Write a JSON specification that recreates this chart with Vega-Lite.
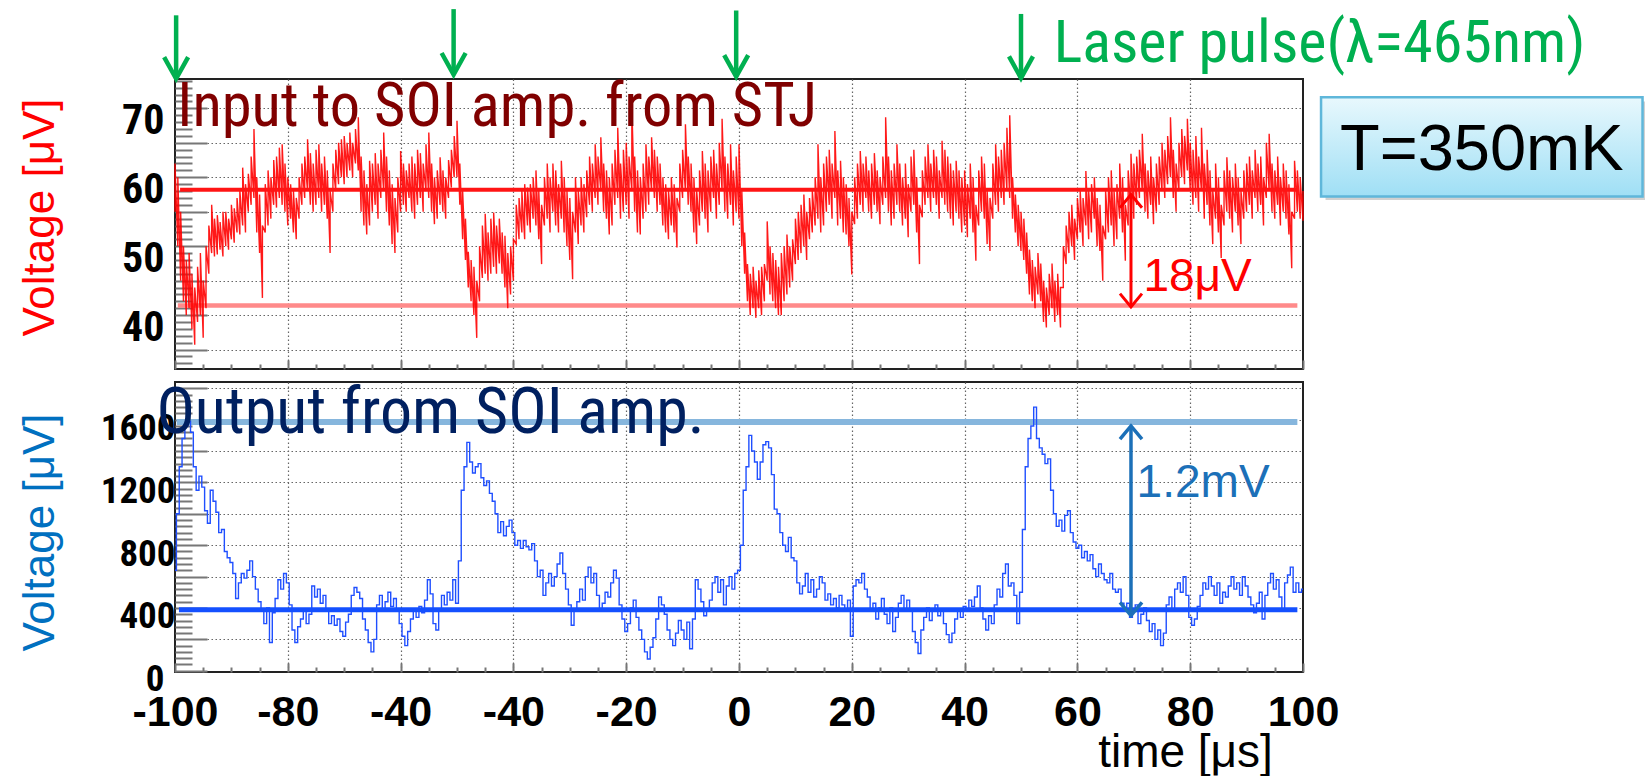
{
 "$schema": "https://vega.github.io/schema/vega-lite/v6.json",
 "background": "white",
 "padding": {"left": 17, "top": 5, "right": 0, "bottom": 0},
 "spacing": 13,
 "bounds": "flush",
 "config": {
  "view": {"stroke": "#222", "strokeWidth": 2},
  "axis": {"labelFont": "Liberation Sans", "titleFont": "Liberation Sans", "domain": false, "tickColor": "#777", "tickWidth": 2, "gridColor": "#666", "gridDash": [1.5, 2.5], "gridWidth": 1.2, "labelOverlap": false, "labelFlush": false, "labelBound": false}
 },
 "vconcat": [
  {
   "width": 1128, "height": 290,
   "encoding": {
    "x": {"field": "t", "type": "quantitative", "scale": {"domain": [-100, 100], "nice": false, "zero": false},
     "axis": {"title": null, "values": [-100,-95,-90,-85,-80,-75,-70,-65,-60,-55,-50,-45,-40,-35,-30,-25,-20,-15,-10,-5,0,5,10,15,20,25,30,35,40,45,50,55,60,65,70,75,80,85,90,95,100],
      "labels": false,
      "tickSize": {"condition": {"test": "datum.value % 20 === 0", "value": -9}, "value": -5},
      "grid": true,
      "gridOpacity": {"condition": {"test": "datum.value % 20 === 0 && abs(datum.value) < 100", "value": 1}, "value": 0}}},
    "y": {"field": "v", "type": "quantitative", "scale": {"domain": [32.18, 74.26], "nice": false, "zero": false},
     "axis": {"title": "Voltage [μV]", "titleColor": "#ff0000", "titleFontSize": 44, "titleFontWeight": "normal", "titleX": -135, "titleY": 138, "titleAngle": -90, "titleAlign": "center", "titleBaseline": "middle",
      "values": [33,34,35,36,37,38,39,40,41,42,43,44,45,46,47,48,49,50,51,52,53,54,55,56,57,58,59,60,61,62,63,64,65,66,67,68,69,70,71,72,73,74],
      "tickSize": {"condition": {"test": "datum.value % 5 === 0", "value": -32}, "value": -17},
      "grid": true,
      "gridOpacity": {"condition": {"test": "datum.value % 5 === 0", "value": 1}, "value": 0},
      "labelExpr": "indexof([40,50,60,70], datum.value) >= 0 ? '' + datum.value : ''",
      "labelFont": "Roboto Condensed, Liberation Sans", "labelFontWeight": "bold", "labelFontSize": 42, "labelColor": "#000",
      "labelPadding": 43,
      "labelOffset": 12}}
   },
   "layer": [
    {"data": {"values": [{"t": -99.5, "t2": 99, "v": 41.4}]}, "mark": {"type": "rule", "color": "#ff8a8a", "strokeWidth": 4.5}, "encoding": {"x2": {"field": "t2"}}},
    {"data": {"values": [
{"t":-100,"v":55,"v2":62},{"t":-99.5,"v":50,"v2":60},{"t":-99,"v":45,"v2":55},{"t":-98.5,"v":42,"v2":50},{"t":-98,"v":40,"v2":48},{"t":-97.5,"v":41,"v2":49},{"t":-97,"v":38,"v2":46},{"t":-96.5,"v":35.7,"v2":44},{"t":-96,"v":39,"v2":47},{"t":-95.5,"v":40,"v2":49},{"t":-95,"v":36.7,"v2":45},{"t":-94.5,"v":41,"v2":50},{"t":-94,"v":46,"v2":53},{"t":-93.5,"v":49,"v2":56},{"t":-93,"v":48.5,"v2":54},{"t":-92.5,"v":48.8,"v2":54.5},{"t":-92,"v":49.5,"v2":53.5},{"t":-91.5,"v":48.5,"v2":55},{"t":-91,"v":50,"v2":55},{"t":-90.5,"v":49.5,"v2":54},{"t":-90,"v":51,"v2":56},{"t":-89.5,"v":50.5,"v2":55.5},{"t":-89,"v":52,"v2":57},{"t":-88.5,"v":51.7,"v2":58},{"t":-88,"v":53,"v2":61.4},{"t":-87.5,"v":52,"v2":59},{"t":-87,"v":55,"v2":60.5},{"t":-86.5,"v":56,"v2":63},{"t":-86,"v":57,"v2":67},{"t":-85.5,"v":52,"v2":60},{"t":-85,"v":49,"v2":57.5},{"t":-84.5,"v":42.5,"v2":53},{"t":-84,"v":52,"v2":59},{"t":-83.5,"v":53,"v2":61},{"t":-83,"v":54,"v2":60},{"t":-82.5,"v":56,"v2":62.5},{"t":-82,"v":55.6,"v2":63},{"t":-81.5,"v":57,"v2":64.3},{"t":-81,"v":56,"v2":64.8},{"t":-80.5,"v":55,"v2":62},{"t":-80,"v":53,"v2":60},{"t":-79.5,"v":54,"v2":59},{"t":-79,"v":52,"v2":58},{"t":-78.5,"v":51,"v2":57},{"t":-78,"v":54,"v2":60},{"t":-77.5,"v":56,"v2":62},{"t":-77,"v":57,"v2":63},{"t":-76.5,"v":58,"v2":65.5},{"t":-76,"v":56,"v2":63.5},{"t":-75.5,"v":55,"v2":62},{"t":-75,"v":56,"v2":64},{"t":-74.5,"v":57,"v2":64.8},{"t":-74,"v":55,"v2":62},{"t":-73.5,"v":56,"v2":63},{"t":-73,"v":54,"v2":61},{"t":-72.5,"v":49,"v2":58},{"t":-72,"v":55,"v2":62},{"t":-71.5,"v":58,"v2":64},{"t":-71,"v":59,"v2":65},{"t":-70.5,"v":60,"v2":65.5},{"t":-70,"v":59,"v2":66},{"t":-69.5,"v":60,"v2":65},{"t":-69,"v":61,"v2":66.5},{"t":-68.5,"v":60,"v2":65},{"t":-68,"v":62,"v2":67},{"t":-67.5,"v":61,"v2":68.7},{"t":-67,"v":55,"v2":63},{"t":-66.5,"v":53,"v2":61},{"t":-66,"v":51.7,"v2":59},{"t":-65.5,"v":53,"v2":62.4},{"t":-65,"v":55,"v2":62},{"t":-64.5,"v":56,"v2":63.5},{"t":-64,"v":54,"v2":62},{"t":-63.5,"v":57,"v2":64},{"t":-63,"v":58,"v2":66.5},{"t":-62.5,"v":55,"v2":63},{"t":-62,"v":53,"v2":61},{"t":-61.5,"v":50.3,"v2":59},{"t":-61,"v":49,"v2":57},{"t":-60.5,"v":52,"v2":60},{"t":-60,"v":55,"v2":63.8},{"t":-59.5,"v":56,"v2":62},{"t":-59,"v":55,"v2":61},{"t":-58.5,"v":57,"v2":62},{"t":-58,"v":55,"v2":63},{"t":-57.5,"v":54,"v2":62},{"t":-57,"v":56,"v2":64},{"t":-56.5,"v":57,"v2":63.5},{"t":-56,"v":55,"v2":62},{"t":-55.5,"v":58,"v2":64.8},{"t":-55,"v":57,"v2":66.5},{"t":-54.5,"v":55,"v2":62},{"t":-54,"v":53.2,"v2":60},{"t":-53.5,"v":54,"v2":61},{"t":-53,"v":56,"v2":62.9},{"t":-52.5,"v":55,"v2":61},{"t":-52,"v":54,"v2":60},{"t":-51.5,"v":57,"v2":62.5},{"t":-51,"v":58.5,"v2":64},{"t":-50.5,"v":60,"v2":66},{"t":-50,"v":60,"v2":68.2},{"t":-49.5,"v":56,"v2":62},{"t":-49,"v":51,"v2":58},{"t":-48.5,"v":48,"v2":54},{"t":-48,"v":44,"v2":49.2},{"t":-47.5,"v":42,"v2":48},{"t":-47,"v":40,"v2":47},{"t":-46.5,"v":36.7,"v2":45},{"t":-46,"v":42,"v2":50},{"t":-45.5,"v":45.4,"v2":53},{"t":-45,"v":46,"v2":54.7},{"t":-44.5,"v":45,"v2":52},{"t":-44,"v":46,"v2":54},{"t":-43.5,"v":47,"v2":54.9},{"t":-43,"v":46,"v2":53},{"t":-42.5,"v":47.5,"v2":54},{"t":-42,"v":46,"v2":52},{"t":-41.5,"v":44,"v2":51.5},{"t":-41,"v":41,"v2":49},{"t":-40.5,"v":43,"v2":50},{"t":-40,"v":45,"v2":51},{"t":-39.5,"v":50.3,"v2":56},{"t":-39,"v":51,"v2":57},{"t":-38.5,"v":52,"v2":58},{"t":-38,"v":51,"v2":59},{"t":-37.5,"v":53,"v2":58.5},{"t":-37,"v":52,"v2":59},{"t":-36.5,"v":54,"v2":60},{"t":-36,"v":53,"v2":61},{"t":-35.5,"v":51,"v2":58},{"t":-35,"v":47.4,"v2":56},{"t":-34.5,"v":53,"v2":60},{"t":-34,"v":54,"v2":62},{"t":-33.5,"v":52,"v2":60},{"t":-33,"v":55,"v2":62},{"t":-32.5,"v":53,"v2":61},{"t":-32,"v":52,"v2":59},{"t":-31.5,"v":54,"v2":62.4},{"t":-31,"v":52,"v2":60},{"t":-30.5,"v":50,"v2":58},{"t":-30,"v":48,"v2":57},{"t":-29.5,"v":45.2,"v2":55},{"t":-29,"v":52,"v2":60},{"t":-28.5,"v":50.3,"v2":58},{"t":-28,"v":53,"v2":60},{"t":-27.5,"v":52,"v2":59},{"t":-27,"v":54.2,"v2":61},{"t":-26.5,"v":56,"v2":63},{"t":-26,"v":55,"v2":62},{"t":-25.5,"v":57,"v2":64.8},{"t":-25,"v":56,"v2":63},{"t":-24.5,"v":58,"v2":65.8},{"t":-24,"v":55,"v2":62},{"t":-23.5,"v":54,"v2":61},{"t":-23,"v":51.7,"v2":60},{"t":-22.5,"v":53,"v2":62},{"t":-22,"v":56,"v2":64},{"t":-21.5,"v":57,"v2":67.2},{"t":-21,"v":54,"v2":62},{"t":-20.5,"v":55,"v2":64},{"t":-20,"v":56,"v2":65},{"t":-19.5,"v":54,"v2":63},{"t":-19,"v":58,"v2":70.4},{"t":-18.5,"v":55,"v2":63},{"t":-18,"v":52,"v2":61},{"t":-17.5,"v":51.7,"v2":60},{"t":-17,"v":54,"v2":62},{"t":-16.5,"v":55,"v2":64.8},{"t":-16,"v":56,"v2":63},{"t":-15.5,"v":58,"v2":65.8},{"t":-15,"v":57,"v2":64},{"t":-14.5,"v":55,"v2":63},{"t":-14,"v":56,"v2":62},{"t":-13.5,"v":53,"v2":60},{"t":-13,"v":52,"v2":59},{"t":-12.5,"v":51,"v2":58},{"t":-12,"v":53,"v2":60},{"t":-11.5,"v":52,"v2":59},{"t":-11,"v":49.8,"v2":57},{"t":-10.5,"v":55,"v2":62},{"t":-10,"v":57,"v2":64},{"t":-9.5,"v":58,"v2":67.7},{"t":-9,"v":56,"v2":63},{"t":-8.5,"v":55,"v2":62},{"t":-8,"v":52,"v2":60},{"t":-7.5,"v":50.3,"v2":58},{"t":-7,"v":53,"v2":61},{"t":-6.5,"v":55,"v2":63.8},{"t":-6,"v":54,"v2":62},{"t":-5.5,"v":52,"v2":61},{"t":-5,"v":55,"v2":63},{"t":-4.5,"v":57,"v2":64},{"t":-4,"v":54,"v2":62},{"t":-3.5,"v":56,"v2":65},{"t":-3,"v":58,"v2":68.5},{"t":-2.5,"v":55,"v2":63},{"t":-2,"v":54,"v2":62},{"t":-1.5,"v":56,"v2":64.8},{"t":-1,"v":53,"v2":61},{"t":-0.5,"v":55,"v2":63},{"t":0,"v":54,"v2":64.8},{"t":0.5,"v":50,"v2":58},{"t":1,"v":46,"v2":52},{"t":1.5,"v":42,"v2":47.4},{"t":2,"v":40,"v2":46},{"t":2.5,"v":41,"v2":47},{"t":3,"v":39.6,"v2":45},{"t":3.5,"v":41,"v2":46.5},{"t":4,"v":40,"v2":47},{"t":4.5,"v":42,"v2":47.4},{"t":5,"v":45,"v2":53.6},{"t":5.5,"v":43,"v2":50},{"t":6,"v":42,"v2":49},{"t":6.5,"v":41,"v2":48},{"t":7,"v":40,"v2":47},{"t":7.5,"v":40,"v2":49},{"t":8,"v":42,"v2":50},{"t":8.5,"v":43,"v2":51.7},{"t":9,"v":44,"v2":50},{"t":9.5,"v":45,"v2":51},{"t":10,"v":47.4,"v2":54},{"t":10.5,"v":48,"v2":55},{"t":11,"v":49,"v2":56},{"t":11.5,"v":50,"v2":57.5},{"t":12,"v":48,"v2":55},{"t":12.5,"v":51,"v2":57},{"t":13,"v":52,"v2":58},{"t":13.5,"v":53,"v2":60},{"t":14,"v":54,"v2":64.8},{"t":14.5,"v":52,"v2":60},{"t":15,"v":53,"v2":62},{"t":15.5,"v":55,"v2":63},{"t":16,"v":56,"v2":64},{"t":16.5,"v":54,"v2":62},{"t":17,"v":57,"v2":66.7},{"t":17.5,"v":53,"v2":61},{"t":18,"v":54,"v2":62.4},{"t":18.5,"v":52,"v2":60},{"t":19,"v":51.7,"v2":59},{"t":19.5,"v":50,"v2":57},{"t":20,"v":45.9,"v2":55},{"t":20.5,"v":53.2,"v2":60},{"t":21,"v":54,"v2":62},{"t":21.5,"v":56,"v2":63.8},{"t":22,"v":55,"v2":62},{"t":22.5,"v":57,"v2":63},{"t":23,"v":55,"v2":61},{"t":23.5,"v":54,"v2":62},{"t":24,"v":56,"v2":63.5},{"t":24.5,"v":55,"v2":61},{"t":25,"v":53.2,"v2":60},{"t":25.5,"v":56,"v2":63},{"t":26,"v":57,"v2":68.7},{"t":26.5,"v":55,"v2":63},{"t":27,"v":53,"v2":61},{"t":27.5,"v":54,"v2":62},{"t":28,"v":56,"v2":64.8},{"t":28.5,"v":55,"v2":62},{"t":29,"v":53,"v2":60},{"t":29.5,"v":54,"v2":62},{"t":30,"v":51.3,"v2":59},{"t":30.5,"v":55,"v2":63},{"t":31,"v":56,"v2":64},{"t":31.5,"v":52,"v2":60},{"t":32,"v":47.4,"v2":56},{"t":32.5,"v":54.2,"v2":61},{"t":33,"v":56,"v2":63},{"t":33.5,"v":57,"v2":64.8},{"t":34,"v":55,"v2":62},{"t":34.5,"v":57,"v2":64},{"t":35,"v":56,"v2":63},{"t":35.5,"v":54,"v2":61},{"t":36,"v":57,"v2":65.3},{"t":36.5,"v":56,"v2":64},{"t":37,"v":55,"v2":63},{"t":37.5,"v":54,"v2":62},{"t":38,"v":53,"v2":61},{"t":38.5,"v":55,"v2":62.4},{"t":39,"v":54,"v2":61},{"t":39.5,"v":52,"v2":60},{"t":40,"v":53,"v2":61},{"t":40.5,"v":51.3,"v2":59},{"t":41,"v":54,"v2":62},{"t":41.5,"v":52,"v2":60},{"t":42,"v":47.9,"v2":56},{"t":42.5,"v":53,"v2":61},{"t":43,"v":55,"v2":63},{"t":43.5,"v":54,"v2":62},{"t":44,"v":50.3,"v2":58},{"t":44.5,"v":49.3,"v2":57},{"t":45,"v":54,"v2":62},{"t":45.5,"v":56,"v2":64.8},{"t":46,"v":55,"v2":63},{"t":46.5,"v":57,"v2":64},{"t":47,"v":56,"v2":65},{"t":47.5,"v":58,"v2":67.2},{"t":48,"v":57,"v2":69},{"t":48.5,"v":54,"v2":60},{"t":49,"v":52,"v2":57.5},{"t":49.5,"v":50,"v2":56},{"t":50,"v":49.3,"v2":55},{"t":50.5,"v":48,"v2":54},{"t":51,"v":46,"v2":52},{"t":51.5,"v":43,"v2":49.5},{"t":52,"v":42,"v2":48},{"t":52.5,"v":41,"v2":47},{"t":53,"v":43,"v2":49},{"t":53.5,"v":42,"v2":47.5},{"t":54,"v":39,"v2":45},{"t":54.5,"v":38.2,"v2":44},{"t":55,"v":40,"v2":46},{"t":55.5,"v":41,"v2":47.5},{"t":56,"v":39,"v2":45},{"t":56.5,"v":40,"v2":46},{"t":57,"v":38.2,"v2":44},{"t":57.5,"v":44,"v2":50},{"t":58,"v":47.4,"v2":53},{"t":58.5,"v":49,"v2":55},{"t":59,"v":50,"v2":56},{"t":59.5,"v":48,"v2":54},{"t":60,"v":51,"v2":57},{"t":60.5,"v":52,"v2":58},{"t":61,"v":50,"v2":57},{"t":61.5,"v":53,"v2":60.9},{"t":62,"v":51,"v2":58},{"t":62.5,"v":52,"v2":59},{"t":63,"v":54,"v2":60},{"t":63.5,"v":50,"v2":57},{"t":64,"v":49.3,"v2":56},{"t":64.5,"v":45,"v2":53},{"t":65,"v":51,"v2":58},{"t":65.5,"v":52,"v2":60},{"t":66,"v":53,"v2":61},{"t":66.5,"v":50,"v2":58},{"t":67,"v":51,"v2":59},{"t":67.5,"v":54,"v2":62},{"t":68,"v":52,"v2":60},{"t":68.5,"v":47.9,"v2":56},{"t":69,"v":53,"v2":61},{"t":69.5,"v":55,"v2":63.4},{"t":70,"v":54,"v2":62},{"t":70.5,"v":56,"v2":63},{"t":71,"v":57,"v2":64},{"t":71.5,"v":58,"v2":66.3},{"t":72,"v":55,"v2":62},{"t":72.5,"v":54,"v2":61},{"t":73,"v":56,"v2":63},{"t":73.5,"v":53.2,"v2":60},{"t":74,"v":55,"v2":62},{"t":74.5,"v":56,"v2":63},{"t":75,"v":58,"v2":65},{"t":75.5,"v":57,"v2":64},{"t":76,"v":59,"v2":66},{"t":76.5,"v":60,"v2":68.7},{"t":77,"v":57,"v2":64},{"t":77.5,"v":55,"v2":62},{"t":78,"v":58,"v2":65},{"t":78.5,"v":60,"v2":67},{"t":79,"v":59,"v2":66},{"t":79.5,"v":61,"v2":68.5},{"t":80,"v":58,"v2":65},{"t":80.5,"v":56,"v2":64},{"t":81,"v":57,"v2":66},{"t":81.5,"v":55,"v2":63},{"t":82,"v":58,"v2":67.2},{"t":82.5,"v":54,"v2":62},{"t":83,"v":56,"v2":64},{"t":83.5,"v":53,"v2":61},{"t":84,"v":50.3,"v2":58},{"t":84.5,"v":54,"v2":62},{"t":85,"v":52,"v2":60},{"t":85.5,"v":48.3,"v2":56},{"t":86,"v":53,"v2":61},{"t":86.5,"v":55,"v2":62.9},{"t":87,"v":54,"v2":61},{"t":87.5,"v":52,"v2":60},{"t":88,"v":55,"v2":62},{"t":88.5,"v":53,"v2":60},{"t":89,"v":50.3,"v2":58},{"t":89.5,"v":54,"v2":61},{"t":90,"v":55,"v2":62},{"t":90.5,"v":56,"v2":63},{"t":91,"v":54,"v2":61},{"t":91.5,"v":57,"v2":64},{"t":92,"v":55,"v2":62},{"t":92.5,"v":56,"v2":63},{"t":93,"v":53,"v2":60},{"t":93.5,"v":57,"v2":65},{"t":94,"v":58,"v2":66.3},{"t":94.5,"v":55,"v2":62},{"t":95,"v":54,"v2":61},{"t":95.5,"v":56,"v2":63},{"t":96,"v":53,"v2":60},{"t":96.5,"v":55,"v2":62},{"t":97,"v":54,"v2":61},{"t":97.5,"v":51.7,"v2":59},{"t":98,"v":46.8,"v2":55},{"t":98.5,"v":54,"v2":62.4},{"t":99,"v":55,"v2":61},{"t":99.5,"v":54,"v2":60},{"t":100,"v":53.7,"v2":58}
    ]}, "transform": [{"fold": ["v", "v2"], "as": ["k", "v"]}], "mark": {"type": "line", "color": "#ff0000", "strokeWidth": 1.4, "opacity": 0.9}},
    {"data": {"values": [{"t": -99.1, "t2": 99, "v": 58.2}]}, "mark": {"type": "rule", "color": "#ff1414", "strokeWidth": 4}, "encoding": {"x2": {"field": "t2"}}},
    {"data": {"values": [{"t": 69.5, "v": 57.5, "v2": 41.2}]}, "mark": {"type": "rule", "color": "#ff0000", "strokeWidth": 3}, "encoding": {"y2": {"field": "v2"}}},
    {"data": {"values": [{"t": 69.5, "v": 57.5}]}, "mark": {"type": "point", "shape": "M-1,1.2L0,0L1,1.2", "filled": false, "stroke": "#ff0000", "strokeWidth": 3, "size": 484, "opacity": 1}},
    {"data": {"values": [{"t": 69.5, "v": 41.2}]}, "mark": {"type": "point", "shape": "M-1,-1.2L0,0L1,-1.2", "filled": false, "stroke": "#ff0000", "strokeWidth": 3, "size": 484, "opacity": 1}},
    {"data": {"values": [{"t": 71.7, "v": 43.5}]}, "mark": {"type": "text", "text": "18μV", "font": "Liberation Sans", "fontSize": 46, "color": "#ff0000", "align": "left", "baseline": "alphabetic"}},
    {"data": {"values": [{"t": -99.6, "v": 67.4}]}, "mark": {"type": "text", "text": "Input to SOI amp. from STJ", "font": "Roboto Condensed, Liberation Sans", "fontSize": 60.5, "color": "#800000", "align": "left", "baseline": "alphabetic"}},
    {"data": {"values": [{"t": -99.8, "v": 83.5, "v2": 74.3}, {"t": -50.6, "v": 84.4, "v2": 74.9}, {"t": -0.5, "v": 84.2, "v2": 74.6}, {"t": 50.0, "v": 83.7, "v2": 74.4}]}, "mark": {"type": "rule", "color": "#00b050", "strokeWidth": 4.5}, "encoding": {"y2": {"field": "v2"}}},
    {"data": {"values": [{"t": -99.8, "v": 74.3}, {"t": -50.6, "v": 74.9}, {"t": -0.5, "v": 74.6}, {"t": 50.0, "v": 74.4}]}, "mark": {"type": "point", "shape": "M-1,-1.8L0,0L1,-1.8", "filled": false, "stroke": "#00b050", "strokeWidth": 4.5, "size": 576, "opacity": 1}},
    {"data": {"values": [{"t": 55.8, "v": 76.7}]}, "mark": {"type": "text", "text": "Laser pulse(λ=465nm)", "font": "Roboto Condensed, Liberation Sans", "fontSize": 60, "color": "#00b050", "align": "left", "baseline": "alphabetic"}},
    {"data": {"values": [{"t": 104.0, "t2": 160.9, "v": 71.0, "v2": 56.7}]}, "mark": {"type": "rect", "fill": "#9a9a9a", "opacity": 0.45}, "encoding": {"x2": {"field": "t2"}, "y2": {"field": "v2"}}},
    {"data": {"values": [{"t": 103.2, "t2": 160.2, "v": 71.6, "v2": 57.2}]}, "mark": {"type": "rect", "fill": {"x1": 0, "y1": 0, "x2": 0, "y2": 1, "gradient": "linear", "stops": [{"offset": 0, "color": "#e8f8fd"}, {"offset": 1, "color": "#9fdff5"}]}, "stroke": "#5fb7da", "strokeWidth": 2.5, "opacity": 1}, "encoding": {"x2": {"field": "t2"}, "y2": {"field": "v2"}}},
    {"data": {"values": [{"t": 131.7, "v": 61.0}]}, "mark": {"type": "text", "text": "T=350mK", "font": "Liberation Sans", "fontSize": 65, "color": "#000000", "align": "center", "baseline": "alphabetic"}}
   ]
  },
  {
   "width": 1128, "height": 290,
   "encoding": {
    "x": {"field": "t", "type": "quantitative", "scale": {"domain": [-100, 100], "nice": false, "zero": false},
     "axis": {"title": "time [μs]", "titleFontSize": 46, "titleFontWeight": "normal", "titleColor": "#000", "titleX": 1010, "titleY": 94, "titleAlign": "center", "titleBaseline": "alphabetic", "titleAngle": 0,
      "values": [-100,-95,-90,-85,-80,-75,-70,-65,-60,-55,-50,-45,-40,-35,-30,-25,-20,-15,-10,-5,0,5,10,15,20,25,30,35,40,45,50,55,60,65,70,75,80,85,90,95,100],
      "labelExpr": "datum.value % 20 === 0 ? (datum.value === -60 ? '-40' : '' + datum.value) : ''",
      "labelFont": "Liberation Sans", "labelFontWeight": "bold", "labelFontSize": 43, "labelColor": "#000", "labelPadding": 28,
      "tickSize": {"condition": {"test": "datum.value % 20 === 0", "value": -9}, "value": -5},
      "grid": true,
      "gridOpacity": {"condition": {"test": "datum.value % 20 === 0 && abs(datum.value) < 100", "value": 1}, "value": 0}}},
    "y": {"field": "v", "type": "quantitative", "scale": {"domain": [-8, 1840], "nice": false, "zero": false},
     "axis": {"title": "Voltage [μV]", "titleColor": "#0070c0", "titleFontSize": 44, "titleFontWeight": "normal", "titleX": -135, "titleY": 150, "titleAngle": -90, "titleAlign": "center", "titleBaseline": "middle",
      "values": [0,40,80,120,160,200,240,280,320,360,400,440,480,520,560,600,640,680,720,760,800,840,880,920,960,1000,1040,1080,1120,1160,1200,1240,1280,1320,1360,1400,1440,1480,1520,1560,1600,1640,1680,1720,1760,1800],
      "tickSize": {"condition": {"test": "datum.value % 200 === 0", "value": -32}, "value": -17},
      "grid": true,
      "gridOpacity": {"condition": {"test": "datum.value % 200 === 0 && datum.value > 0", "value": 1}, "value": 0},
      "labelExpr": "indexof([0,400,800,1200,1600], datum.value) >= 0 ? '' + datum.value : ''",
      "labelFont": "Roboto Condensed, Liberation Sans", "labelFontWeight": "bold", "labelFontSize": 37, "labelColor": "#000",
      "labelPadding": {"condition": {"test": "datum.value === 0", "value": 43}, "value": 32},
      "labelOffset": 9}}
   },
   "layer": [
    {"data": {"values": [{"t": -99.7, "t2": 99, "v": 1585}]}, "mark": {"type": "rule", "color": "#86b6dd", "strokeWidth": 6}, "encoding": {"x2": {"field": "t2"}}},
    {"data": {"values": [
{"t":-100,"v":640},{"t":-99.5,"v":1000},{"t":-99,"v":1300},{"t":-98.5,"v":1480},{"t":-98,"v":1560},{"t":-97.5,"v":1590},{"t":-97,"v":1520},{"t":-96.5,"v":1300},{"t":-96,"v":1150},{"t":-95.5,"v":1240},{"t":-95,"v":1170},{"t":-94.5,"v":1020},{"t":-94,"v":940},{"t":-93.5,"v":1150},{"t":-93,"v":1080},{"t":-92.5,"v":1010},{"t":-92,"v":880},{"t":-91.5,"v":900},{"t":-91,"v":760},{"t":-90.5,"v":720},{"t":-90,"v":690},{"t":-89.5,"v":620},{"t":-89,"v":460},{"t":-88.5,"v":560},{"t":-88,"v":620},{"t":-87.5,"v":590},{"t":-87,"v":640},{"t":-86.5,"v":700},{"t":-86,"v":600},{"t":-85.5,"v":520},{"t":-85,"v":440},{"t":-84.5,"v":380},{"t":-84,"v":300},{"t":-83.5,"v":400},{"t":-83,"v":180},{"t":-82.5,"v":370},{"t":-82,"v":460},{"t":-81.5,"v":580},{"t":-81,"v":520},{"t":-80.5,"v":620},{"t":-80,"v":560},{"t":-79.5,"v":420},{"t":-79,"v":260},{"t":-78.5,"v":180},{"t":-78,"v":280},{"t":-77.5,"v":330},{"t":-77,"v":390},{"t":-76.5,"v":300},{"t":-76,"v":360},{"t":-75.5,"v":540},{"t":-75,"v":470},{"t":-74.5,"v":520},{"t":-74,"v":430},{"t":-73.5,"v":480},{"t":-73,"v":380},{"t":-72.5,"v":300},{"t":-72,"v":350},{"t":-71.5,"v":290},{"t":-71,"v":330},{"t":-70.5,"v":250},{"t":-70,"v":220},{"t":-69.5,"v":310},{"t":-69,"v":360},{"t":-68.5,"v":480},{"t":-68,"v":530},{"t":-67.5,"v":500},{"t":-67,"v":460},{"t":-66.5,"v":330},{"t":-66,"v":260},{"t":-65.5,"v":180},{"t":-65,"v":120},{"t":-64.5,"v":200},{"t":-64,"v":420},{"t":-63.5,"v":480},{"t":-63,"v":380},{"t":-62.5,"v":440},{"t":-62,"v":500},{"t":-61.5,"v":410},{"t":-61,"v":460},{"t":-60.5,"v":380},{"t":-60,"v":300},{"t":-59.5,"v":220},{"t":-59,"v":160},{"t":-58.5,"v":250},{"t":-58,"v":330},{"t":-57.5,"v":380},{"t":-57,"v":340},{"t":-56.5,"v":410},{"t":-56,"v":370},{"t":-55.5,"v":450},{"t":-55,"v":580},{"t":-54.5,"v":490},{"t":-54,"v":300},{"t":-53.5,"v":260},{"t":-53,"v":380},{"t":-52.5,"v":480},{"t":-52,"v":420},{"t":-51.5,"v":500},{"t":-51,"v":450},{"t":-50.5,"v":580},{"t":-50,"v":430},{"t":-49.5,"v":700},{"t":-49,"v":1150},{"t":-48.5,"v":1300},{"t":-48,"v":1455},{"t":-47.5,"v":1330},{"t":-47,"v":1260},{"t":-46.5,"v":1300},{"t":-46,"v":1320},{"t":-45.5,"v":1230},{"t":-45,"v":1180},{"t":-44.5,"v":1210},{"t":-44,"v":1130},{"t":-43.5,"v":1080},{"t":-43,"v":1000},{"t":-42.5,"v":880},{"t":-42,"v":950},{"t":-41.5,"v":860},{"t":-41,"v":920},{"t":-40.5,"v":960},{"t":-40,"v":880},{"t":-39.5,"v":800},{"t":-39,"v":830},{"t":-38.5,"v":780},{"t":-38,"v":830},{"t":-37.5,"v":790},{"t":-37,"v":770},{"t":-36.5,"v":810},{"t":-36,"v":700},{"t":-35.5,"v":600},{"t":-35,"v":640},{"t":-34.5,"v":480},{"t":-34,"v":560},{"t":-33.5,"v":620},{"t":-33,"v":540},{"t":-32.5,"v":600},{"t":-32,"v":680},{"t":-31.5,"v":750},{"t":-31,"v":620},{"t":-30.5,"v":520},{"t":-30,"v":420},{"t":-29.5,"v":290},{"t":-29,"v":380},{"t":-28.5,"v":440},{"t":-28,"v":520},{"t":-27.5,"v":450},{"t":-27,"v":600},{"t":-26.5,"v":660},{"t":-26,"v":560},{"t":-25.5,"v":620},{"t":-25,"v":480},{"t":-24.5,"v":380},{"t":-24,"v":430},{"t":-23.5,"v":500},{"t":-23,"v":470},{"t":-22.5,"v":560},{"t":-22,"v":640},{"t":-21.5,"v":590},{"t":-21,"v":420},{"t":-20.5,"v":330},{"t":-20,"v":250},{"t":-19.5,"v":300},{"t":-19,"v":400},{"t":-18.5,"v":450},{"t":-18,"v":340},{"t":-17.5,"v":260},{"t":-17,"v":200},{"t":-16.5,"v":120},{"t":-16,"v":75},{"t":-15.5,"v":150},{"t":-15,"v":210},{"t":-14.5,"v":330},{"t":-14,"v":470},{"t":-13.5,"v":420},{"t":-13,"v":360},{"t":-12.5,"v":260},{"t":-12,"v":200},{"t":-11.5,"v":160},{"t":-11,"v":240},{"t":-10.5,"v":320},{"t":-10,"v":260},{"t":-9.5,"v":200},{"t":-9,"v":310},{"t":-8.5,"v":140},{"t":-8,"v":330},{"t":-7.5,"v":580},{"t":-7,"v":520},{"t":-6.5,"v":440},{"t":-6,"v":350},{"t":-5.5,"v":380},{"t":-5,"v":450},{"t":-4.5,"v":560},{"t":-4,"v":600},{"t":-3.5,"v":500},{"t":-3,"v":580},{"t":-2.5,"v":420},{"t":-2,"v":540},{"t":-1.5,"v":600},{"t":-1,"v":520},{"t":-0.5,"v":620},{"t":0,"v":640},{"t":0.5,"v":800},{"t":1,"v":1150},{"t":1.5,"v":1300},{"t":2,"v":1500},{"t":2.5,"v":1400},{"t":3,"v":1330},{"t":3.5,"v":1220},{"t":4,"v":1330},{"t":4.5,"v":1440},{"t":5,"v":1460},{"t":5.5,"v":1420},{"t":6,"v":1250},{"t":6.5,"v":1030},{"t":7,"v":1000},{"t":7.5,"v":880},{"t":8,"v":800},{"t":8.5,"v":760},{"t":9,"v":850},{"t":9.5,"v":720},{"t":10,"v":700},{"t":10.5,"v":560},{"t":11,"v":490},{"t":11.5,"v":540},{"t":12,"v":620},{"t":12.5,"v":500},{"t":13,"v":580},{"t":13.5,"v":470},{"t":14,"v":520},{"t":14.5,"v":600},{"t":15,"v":560},{"t":15.5,"v":450},{"t":16,"v":490},{"t":16.5,"v":420},{"t":17,"v":460},{"t":17.5,"v":400},{"t":18,"v":480},{"t":18.5,"v":420},{"t":19,"v":380},{"t":19.5,"v":450},{"t":20,"v":220},{"t":20.5,"v":540},{"t":21,"v":580},{"t":21.5,"v":560},{"t":22,"v":620},{"t":22.5,"v":520},{"t":23,"v":470},{"t":23.5,"v":380},{"t":24,"v":430},{"t":24.5,"v":330},{"t":25,"v":400},{"t":25.5,"v":460},{"t":26,"v":360},{"t":26.5,"v":300},{"t":27,"v":400},{"t":27.5,"v":250},{"t":28,"v":340},{"t":28.5,"v":430},{"t":29,"v":480},{"t":29.5,"v":390},{"t":30,"v":450},{"t":30.5,"v":380},{"t":31,"v":250},{"t":31.5,"v":180},{"t":32,"v":110},{"t":32.5,"v":260},{"t":33,"v":340},{"t":33.5,"v":400},{"t":34,"v":320},{"t":34.5,"v":380},{"t":35,"v":420},{"t":35.5,"v":350},{"t":36,"v":380},{"t":36.5,"v":300},{"t":37,"v":230},{"t":37.5,"v":180},{"t":38,"v":240},{"t":38.5,"v":330},{"t":39,"v":380},{"t":39.5,"v":340},{"t":40,"v":410},{"t":40.5,"v":390},{"t":41,"v":450},{"t":41.5,"v":410},{"t":42,"v":470},{"t":42.5,"v":540},{"t":43,"v":400},{"t":43.5,"v":330},{"t":44,"v":260},{"t":44.5,"v":350},{"t":45,"v":300},{"t":45.5,"v":420},{"t":46,"v":520},{"t":46.5,"v":470},{"t":47,"v":620},{"t":47.5,"v":680},{"t":48,"v":540},{"t":48.5,"v":560},{"t":49,"v":480},{"t":49.5,"v":300},{"t":50,"v":500},{"t":50.5,"v":900},{"t":51,"v":1300},{"t":51.5,"v":1480},{"t":52,"v":1560},{"t":52.5,"v":1680},{"t":53,"v":1480},{"t":53.5,"v":1420},{"t":54,"v":1380},{"t":54.5,"v":1320},{"t":55,"v":1350},{"t":55.5,"v":1150},{"t":56,"v":1000},{"t":56.5,"v":920},{"t":57,"v":960},{"t":57.5,"v":890},{"t":58,"v":990},{"t":58.5,"v":1020},{"t":59,"v":880},{"t":59.5,"v":820},{"t":60,"v":780},{"t":60.5,"v":800},{"t":61,"v":720},{"t":61.5,"v":760},{"t":62,"v":700},{"t":62.5,"v":740},{"t":63,"v":650},{"t":63.5,"v":600},{"t":64,"v":680},{"t":64.5,"v":620},{"t":65,"v":580},{"t":65.5,"v":560},{"t":66,"v":620},{"t":66.5,"v":520},{"t":67,"v":500},{"t":67.5,"v":520},{"t":68,"v":430},{"t":68.5,"v":380},{"t":69,"v":430},{"t":69.5,"v":340},{"t":70,"v":380},{"t":70.5,"v":420},{"t":71,"v":300},{"t":71.5,"v":360},{"t":72,"v":400},{"t":72.5,"v":320},{"t":73,"v":250},{"t":73.5,"v":300},{"t":74,"v":200},{"t":74.5,"v":260},{"t":75,"v":160},{"t":75.5,"v":240},{"t":76,"v":420},{"t":76.5,"v":470},{"t":77,"v":380},{"t":77.5,"v":520},{"t":78,"v":560},{"t":78.5,"v":500},{"t":79,"v":600},{"t":79.5,"v":480},{"t":80,"v":340},{"t":80.5,"v":290},{"t":81,"v":330},{"t":81.5,"v":410},{"t":82,"v":480},{"t":82.5,"v":560},{"t":83,"v":520},{"t":83.5,"v":600},{"t":84,"v":540},{"t":84.5,"v":480},{"t":85,"v":560},{"t":85.5,"v":430},{"t":86,"v":500},{"t":86.5,"v":470},{"t":87,"v":540},{"t":87.5,"v":600},{"t":88,"v":520},{"t":88.5,"v":560},{"t":89,"v":480},{"t":89.5,"v":600},{"t":90,"v":540},{"t":90.5,"v":470},{"t":91,"v":420},{"t":91.5,"v":370},{"t":92,"v":430},{"t":92.5,"v":500},{"t":93,"v":330},{"t":93.5,"v":480},{"t":94,"v":560},{"t":94.5,"v":620},{"t":95,"v":520},{"t":95.5,"v":580},{"t":96,"v":470},{"t":96.5,"v":380},{"t":97,"v":560},{"t":97.5,"v":610},{"t":98,"v":660},{"t":98.5,"v":500},{"t":99,"v":560},{"t":99.5,"v":500},{"t":100,"v":520}
    ]}, "mark": {"type": "line", "color": "#1f4fff", "strokeWidth": 1.4, "interpolate": "step"}},
    {"data": {"values": [{"t": -99.3, "t2": 99, "v": 389}]}, "mark": {"type": "rule", "color": "#1450ff", "strokeWidth": 5}, "encoding": {"x2": {"field": "t2"}}},
    {"data": {"values": [{"t": 69.5, "v": 1560, "v2": 352}]}, "mark": {"type": "rule", "color": "#1c70b8", "strokeWidth": 3.5}, "encoding": {"y2": {"field": "v2"}}},
    {"data": {"values": [{"t": 69.5, "v": 1560}]}, "mark": {"type": "point", "shape": "M-1,1.2L0,0L1,1.2", "filled": false, "stroke": "#1c70b8", "strokeWidth": 3.5, "size": 484, "opacity": 1}},
    {"data": {"values": [{"t": 69.5, "v": 352}]}, "mark": {"type": "point", "shape": "M-1,-1.2L0,0L1,-1.2", "filled": false, "stroke": "#1c70b8", "strokeWidth": 3.5, "size": 484, "opacity": 1}},
    {"data": {"values": [{"t": 70.5, "v": 1104}]}, "mark": {"type": "text", "text": "1.2mV", "font": "Liberation Sans", "fontSize": 46, "color": "#1c70b8", "align": "left", "baseline": "alphabetic"}},
    {"data": {"values": [{"t": -103.3, "v": 1518}]}, "mark": {"type": "text", "text": "Output from SOI amp.", "font": "Roboto Condensed, Liberation Sans", "fontSize": 64, "color": "#002060", "align": "left", "baseline": "alphabetic"}}
   ]
  }
 ]
}
